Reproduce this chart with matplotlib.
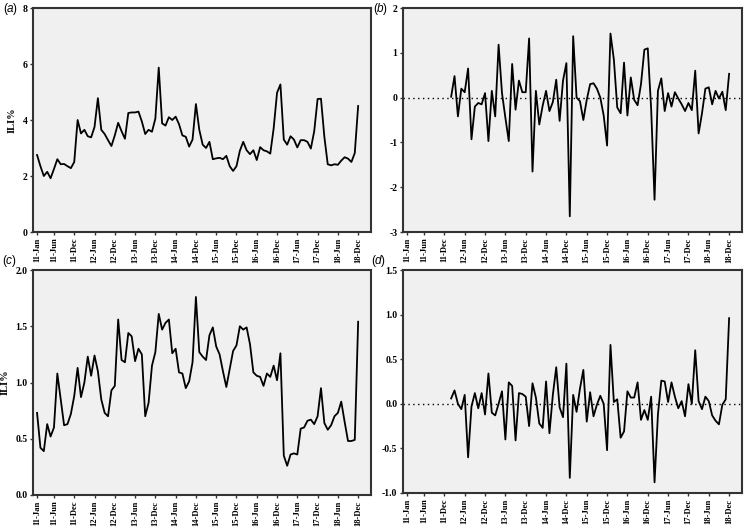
import matplotlib
matplotlib.use("Agg")
import matplotlib.pyplot as plt
import numpy as np

# monthly series, Jan 2011 .. Dec 2018
ili_a = [2.75, 2.35, 2.00, 2.15, 1.92, 2.25, 2.60, 2.42, 2.43, 2.35, 2.28, 2.50,
         4.00, 3.52, 3.65, 3.42, 3.38, 3.75, 4.78, 3.65, 3.50, 3.28, 3.07, 3.45,
         3.90, 3.60, 3.33, 4.25, 4.27, 4.27, 4.30, 3.95, 3.50, 3.65, 3.58, 4.05,
         5.87, 3.88, 3.80, 4.10, 4.00, 4.12, 3.85, 3.45, 3.40, 3.05, 3.30, 4.57,
         3.65, 3.12, 3.00, 3.22, 2.60, 2.63, 2.65, 2.60, 2.72, 2.35, 2.18, 2.35,
         2.90, 3.22, 2.92, 2.78, 2.92, 2.57, 3.03, 2.92, 2.88, 2.80, 3.70, 4.97,
         5.27, 3.30, 3.12, 3.42, 3.30, 3.02, 3.28, 3.28, 3.22, 2.98, 3.60, 4.75,
         4.76, 3.40, 2.42, 2.38, 2.42, 2.40, 2.55, 2.67, 2.62, 2.50, 2.82, 4.50]

ili_c = [0.73, 0.42, 0.39, 0.63, 0.52, 0.60, 1.08, 0.85, 0.62, 0.63, 0.72, 0.88,
         1.13, 0.87, 1.00, 1.23, 1.06, 1.24, 1.10, 0.85, 0.73, 0.70, 0.93, 0.97,
         1.56, 1.20, 1.18, 1.44, 1.41, 1.19, 1.30, 1.25, 0.70, 0.82, 1.15, 1.27,
         1.61, 1.47, 1.53, 1.56, 1.26, 1.30, 1.09, 1.08, 0.95, 1.01, 1.18, 1.76,
         1.27, 1.23, 1.20, 1.42, 1.49, 1.32, 1.25, 1.10, 0.96, 1.12, 1.28, 1.33,
         1.50, 1.47, 1.49, 1.34, 1.09, 1.06, 1.05, 0.97, 1.08, 1.05, 1.15, 1.02,
         1.26, 0.35, 0.26, 0.36, 0.37, 0.36, 0.59, 0.60, 0.66, 0.67, 0.63, 0.70,
         0.95, 0.64, 0.58, 0.62, 0.70, 0.73, 0.83, 0.65, 0.48, 0.48, 0.49, 1.54]

# differenced series, Feb 2012 .. Dec 2018
diff_b = [0.02, 0.48, -0.42, 0.20, 0.12, 0.65, -0.93, -0.20, -0.12, -0.15, 0.10,
          -0.97, 0.15, -0.42, 1.18, 0.10, -0.45, -0.97, 0.75, -0.27, 0.38, 0.12, 0.12,
          1.32, -1.65, 0.15, -0.60, -0.18, 0.15, -0.30, -0.10, 0.40, -0.52, 0.38, 0.77,
          -2.65, 1.37, 0.00, -0.08, -0.50, -0.05, 0.30, 0.32, 0.20, 0.00, -0.40, -1.07,
          1.43, 0.85, -0.22, -0.35, 0.78, -0.40, 0.45, -0.05, -0.17, 0.30, 1.07, 1.10,
          -0.25, -2.28, 0.15, 0.43, -0.30, 0.10, -0.20, 0.12, -0.02, -0.15, -0.30, -0.12,
          -0.28, 0.60, -0.80, -0.35, 0.20, 0.23, -0.15, 0.15, -0.02, 0.13, -0.28, 0.53]

diff_d = [0.06, 0.15, 0.00, -0.06, 0.10, -0.60, -0.03, 0.12, -0.05, 0.12, -0.12,
          0.34, -0.10, -0.13, 0.00, 0.14, -0.40, 0.24, 0.20, -0.41, 0.12, 0.11, 0.08,
          -0.25, 0.23, 0.07, -0.22, -0.27, 0.25, -0.33, 0.10, 0.41, -0.04, -0.15, 0.45,
          -0.83, 0.10, -0.09, 0.17, 0.38, -0.20, 0.13, -0.14, -0.01, 0.09, 0.00, -0.52,
          0.66, 0.02, 0.05, -0.38, -0.31, 0.14, 0.07, 0.07, 0.24, -0.18, -0.07, -0.18,
          0.08, -0.88, -0.12, 0.26, 0.25, 0.02, 0.24, 0.08, -0.05, 0.03, -0.14, 0.22,
          0.00, 0.60, 0.03, -0.06, 0.08, 0.03, -0.13, -0.19, -0.23, -0.01, 0.05, 0.96]

tick_pos = [0, 5, 11, 17, 23, 29, 35, 41, 47, 53, 59, 65, 71, 77, 83, 89, 95]
tick_labels = ["11-Jan", "11-Jun", "11-Dec", "12-Jun", "12-Dec", "13-Jun", "13-Dec",
               "14-Jun", "14-Dec", "15-Jun", "15-Dec", "16-Jun", "16-Dec", "17-Jun",
               "17-Dec", "18-Jun", "18-Dec"]

W, H = 747, 530
SERIF = "Liberation Serif"


def box(l, t, r, b):
    return [l / W, 1 - b / H, (r - l) / W, (b - t) / H]


def style_axes(ax, yticks, ylim, fmt):
    ax.set_facecolor("#f0f0f0")
    for sp in ax.spines.values():
        sp.set_linewidth(1.5)
        sp.set_color("#333333")
    ax.set_xlim(-1.2, 98.8)
    ax.set_ylim(*ylim)
    ax.set_xticks(tick_pos)
    ax.set_xticklabels(tick_labels, rotation=90, fontsize=6.2,
                       fontfamily=SERIF, fontweight="bold")
    ax.set_yticks(yticks)
    ax.set_yticklabels([fmt.format(v) for v in yticks], fontsize=7,
                       fontfamily=SERIF, fontweight="bold")
    ax.tick_params(direction="out", length=2.5, width=1, pad=1.5, color="#333333")


fig = plt.figure(figsize=(W / 100, H / 100), dpi=100)
fig.patch.set_facecolor("white")

months = np.arange(96)
months_diff = np.arange(13, 96)

ax_a = fig.add_axes(box(33, 8, 371, 232))
ax_a.plot(months, ili_a, color="black", lw=1.3)
style_axes(ax_a, [0, 2, 4, 6, 8], (0, 8), "{:d}")
ax_a.set_ylabel("ILI%", fontfamily=SERIF, fontweight="bold", fontsize=7.5, labelpad=4)

ax_b = fig.add_axes(box(403, 8, 742, 232))
ax_b.plot(months_diff, diff_b, color="black", lw=1.3)
ax_b.axhline(0, color="black", lw=1.0, ls=(0, (1, 2.5)))
style_axes(ax_b, [-3, -2, -1, 0, 1, 2], (-3, 2), "{:d}")

ax_c = fig.add_axes(box(33, 270, 371, 495))
ax_c.plot(months, ili_c, color="black", lw=1.3)
style_axes(ax_c, [0.0, 0.5, 1.0, 1.5, 2.0], (0, 2), "{:.1f}")
ax_c.set_ylabel("ILI%", fontfamily=SERIF, fontweight="bold", fontsize=7.5, labelpad=4)

ax_d = fig.add_axes(box(403, 270, 742, 493))
ax_d.plot(months_diff, diff_d, color="black", lw=1.3)
ax_d.axhline(0, color="black", lw=1.0, ls=(0, (1, 2.5)))
style_axes(ax_d, [-1.0, -0.5, 0.0, 0.5, 1.0, 1.5], (-1, 1.5), "{:.1f}")

# panel letters
for label, (px, py) in {"a": (3, 9), "b": (373, 9), "c": (2, 261), "d": (371, 261)}.items():
    fig.text(px / W, 1 - py / H, "(", fontsize=8.5, va="center", ha="left",
             fontfamily="Liberation Sans")
    fig.text((px + 4) / W, 1 - py / H, label, fontsize=8.5, va="center", ha="left",
             fontfamily="Liberation Sans", style="italic")
    fig.text((px + 10) / W, 1 - py / H, ")", fontsize=8.5, va="center", ha="left",
             fontfamily="Liberation Sans")

fig.savefig("out.png", dpi=100)
